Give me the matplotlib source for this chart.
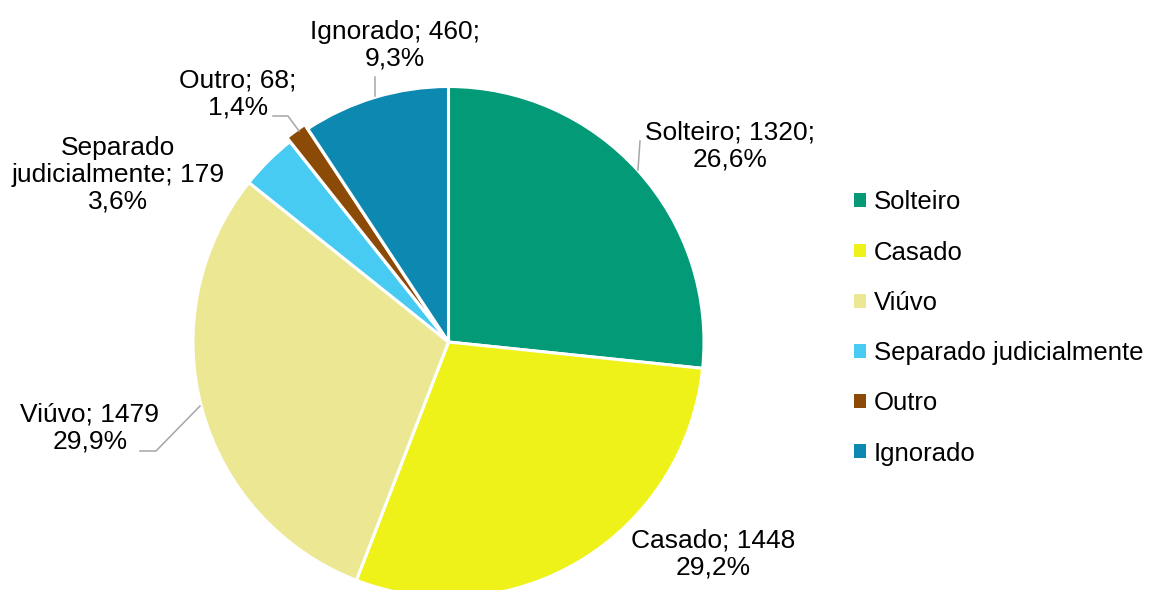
import matplotlib
matplotlib.use("Agg")
import matplotlib.pyplot as plt
from matplotlib.patches import Patch

plt.rcParams['font.family'] = ['Liberation Sans', 'DejaVu Sans']

categories = ["Solteiro", "Casado", "Viúvo", "Separado judicialmente", "Outro", "Ignorado"]
values = [1320, 1448, 1479, 179, 68, 460]
percent_labels = ["26,6%", "29,2%", "29,9%", "3,6%", "1,4%", "9,3%"]
colors = ["#039A77", "#EEF218", "#ECE792", "#48CBF2", "#8B4B07", "#0C88B1"]

W, H = 1149, 590
fig = plt.figure(figsize=(W / 100, H / 100), dpi=100)
cx, cy, r = 448.5, 342, 255.5
ax = fig.add_axes([(cx - r) / W, (H - cy - r) / H, 2 * r / W, 2 * r / H])
ax.set_xlim(-1, 1)
ax.set_ylim(-1, 1)
ax.set_aspect('equal')
ax.axis('off')

explode = [0, 0, 0, 0, 0.02, 0]
ax.pie(values, colors=colors, startangle=90, counterclock=False, radius=1,
       explode=explode, wedgeprops=dict(edgecolor='white', linewidth=2.2))
ax.set_xlim(-1, 1)
ax.set_ylim(-1, 1)


def d(px, py):
    return ((px - cx) / r, (cy - py) / r)


fs = 19
label_texts = [
    "Solteiro; 1320;\n26,6%",
    "Casado; 1448\n29,2%",
    "Viúvo; 1479\n29,9%",
    "Separado\njudicialmente; 179\n3,6%",
    "Outro; 68;\n1,4%",
    "Ignorado; 460;\n9,3%",
]
label_pos = [(730, 146), (713, 554), (90, 428), (118, 175), (238, 94), (395, 45)]
for t, (px, py) in zip(label_texts, label_pos):
    x, y = d(px, py)
    ax.text(x, y, t, ha='center', va='center', fontsize=fs, linespacing=1.15,
            color='black', clip_on=False)

lc = '#A6A6A6'
leaders = [
    [(640, 141), (638, 170)],
    [(140, 451), (156, 451), (200, 406)],
    [(273, 116), (288, 116), (299, 131)],
    [(375, 77), (375, 96)],
]
for pts in leaders:
    xs, ys = zip(*[d(*p) for p in pts])
    ax.plot(xs, ys, color=lc, lw=1.1, clip_on=False)

handles = [Patch(facecolor=c, edgecolor='none') for c in colors]
fig.legend(handles, categories, loc='center left', bbox_to_anchor=(844 / W, 1 - 328 / H),
           frameon=False, fontsize=18.5, handlelength=0.45, handleheight=0.45,
           handletextpad=0.3, labelspacing=1.02, borderaxespad=0)

fig.savefig("out.png", dpi=100)
